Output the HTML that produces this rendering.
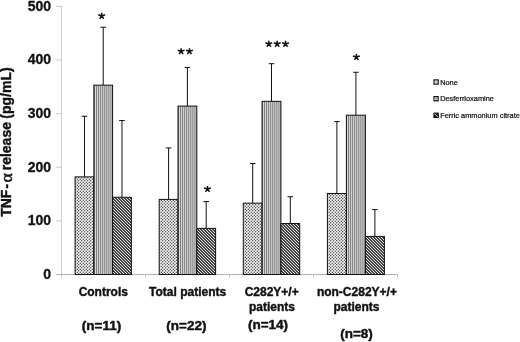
<!DOCTYPE html>
<html><head><meta charset="utf-8"><title>chart</title>
<style>html,body{margin:0;padding:0;background:#fff;}svg{display:block;will-change:transform;}</style></head>
<body>
<svg width="520" height="342" viewBox="0 0 520 342">
<defs>
<pattern id="pd" patternUnits="userSpaceOnUse" width="3" height="3" x="0" y="0">
<rect width="3" height="3" fill="#fff"/>
<circle cx="0.75" cy="0.75" r="0.66" fill="#2a2a2a"/><circle cx="2.25" cy="2.25" r="0.66" fill="#2a2a2a"/>
</pattern>
<pattern id="ph" patternUnits="userSpaceOnUse" width="3" height="3" x="0" y="0">
<rect width="3" height="3" fill="#000"/>
<path d="M-1 -1 L4 4 M2 -1 L7 4 M-4 -1 L1 4" stroke="#f2f2f2" stroke-width="1.05" fill="none"/>
</pattern>
</defs>
<rect width="520" height="342" fill="#fff"/>
<g stroke-width="1" fill="none">
<path d="M61.5 5.80 V278" stroke="#cccccc"/>
<path d="M56 274.5 H397.5" stroke="#b2b2b2"/>
<path d="M56.3 220.86 H61.5 M56.3 167.22 H61.5 M56.3 113.58 H61.5 M56.3 59.94 H61.5 M56.3 6.30 H61.5" stroke="#c6c6c6"/>
<path d="M145.5 274.5 V277.8 M229.5 274.5 V277.8 M313.5 274.5 V277.8 M397.5 274.5 V277.8" stroke="#c6c6c6"/>
</g>
<path d="M84.47 176.88 V116.26 M81.67 116.26 H87.27" stroke="#111" stroke-width="1" fill="none"/>
<rect x="75.10" y="176.88" width="18.75" height="97.62" fill="url(#pd)" stroke="#111" stroke-width="1"/>
<path d="M103.22 85.15 V27.22 M100.42 27.22 H106.02" stroke="#111" stroke-width="1" fill="none"/>
<rect x="93.85" y="85.15" width="18.75" height="189.35" fill="#7c7c7c"/><path d="M95.55 85.15 V274.50 M97.60 85.15 V274.50 M99.65 85.15 V274.50 M101.70 85.15 V274.50 M103.75 85.15 V274.50 M105.80 85.15 V274.50 M107.85 85.15 V274.50 M109.90 85.15 V274.50 M111.95 85.15 V274.50" stroke="#e4e4e4" stroke-width="0.95" fill="none"/>
<rect x="93.85" y="85.15" width="18.75" height="189.35" fill="none" stroke="#111" stroke-width="1"/>
<path d="M121.97 197.26 V120.55 M119.17 120.55 H124.77" stroke="#111" stroke-width="1" fill="none"/>
<rect x="112.60" y="197.26" width="18.75" height="77.24" fill="url(#ph)" stroke="#111" stroke-width="1"/>
<path d="M168.60 199.40 V147.91 M165.80 147.91 H171.40" stroke="#111" stroke-width="1" fill="none"/>
<rect x="159.20" y="199.40" width="18.8" height="75.10" fill="url(#pd)" stroke="#111" stroke-width="1"/>
<path d="M187.40 106.07 V67.45 M184.60 67.45 H190.20" stroke="#111" stroke-width="1" fill="none"/>
<rect x="178.00" y="106.07" width="18.8" height="168.43" fill="#7c7c7c"/><path d="M179.55 106.07 V274.50 M181.60 106.07 V274.50 M183.65 106.07 V274.50 M185.70 106.07 V274.50 M187.75 106.07 V274.50 M189.80 106.07 V274.50 M191.85 106.07 V274.50 M193.90 106.07 V274.50 M195.95 106.07 V274.50" stroke="#e4e4e4" stroke-width="0.95" fill="none"/>
<rect x="178.00" y="106.07" width="18.8" height="168.43" fill="none" stroke="#111" stroke-width="1"/>
<path d="M206.20 228.37 V201.55 M203.40 201.55 H209.00" stroke="#111" stroke-width="1" fill="none"/>
<rect x="196.80" y="228.37" width="18.8" height="46.13" fill="url(#ph)" stroke="#111" stroke-width="1"/>
<path d="M252.70 203.16 V163.47 M249.90 163.47 H255.50" stroke="#111" stroke-width="1" fill="none"/>
<rect x="243.30" y="203.16" width="18.8" height="71.34" fill="url(#pd)" stroke="#111" stroke-width="1"/>
<path d="M271.50 101.35 V63.69 M268.70 63.69 H274.30" stroke="#111" stroke-width="1" fill="none"/>
<rect x="262.10" y="101.35" width="18.8" height="173.15" fill="#7c7c7c"/><path d="M263.55 101.35 V274.50 M265.60 101.35 V274.50 M267.65 101.35 V274.50 M269.70 101.35 V274.50 M271.75 101.35 V274.50 M273.80 101.35 V274.50 M275.85 101.35 V274.50 M277.90 101.35 V274.50 M279.95 101.35 V274.50" stroke="#e4e4e4" stroke-width="0.95" fill="none"/>
<rect x="262.10" y="101.35" width="18.8" height="173.15" fill="none" stroke="#111" stroke-width="1"/>
<path d="M290.30 223.54 V196.72 M287.50 196.72 H293.10" stroke="#111" stroke-width="1" fill="none"/>
<rect x="280.90" y="223.54" width="18.8" height="50.96" fill="url(#ph)" stroke="#111" stroke-width="1"/>
<path d="M336.90 193.50 V121.63 M334.10 121.63 H339.70" stroke="#111" stroke-width="1" fill="none"/>
<rect x="327.40" y="193.50" width="19.0" height="81.00" fill="url(#pd)" stroke="#111" stroke-width="1"/>
<path d="M355.90 115.19 V72.28 M353.10 72.28 H358.70" stroke="#111" stroke-width="1" fill="none"/>
<rect x="346.40" y="115.19" width="19.0" height="159.31" fill="#7c7c7c"/><path d="M347.55 115.19 V274.50 M349.60 115.19 V274.50 M351.65 115.19 V274.50 M353.70 115.19 V274.50 M355.75 115.19 V274.50 M357.80 115.19 V274.50 M359.85 115.19 V274.50 M361.90 115.19 V274.50 M363.95 115.19 V274.50" stroke="#e4e4e4" stroke-width="0.95" fill="none"/>
<rect x="346.40" y="115.19" width="19.0" height="159.31" fill="none" stroke="#111" stroke-width="1"/>
<path d="M374.90 236.42 V209.60 M372.10 209.60 H377.70" stroke="#111" stroke-width="1" fill="none"/>
<rect x="365.40" y="236.42" width="19.0" height="38.08" fill="url(#ph)" stroke="#111" stroke-width="1"/>
<g font-family="Liberation Sans, sans-serif" font-weight="bold" font-size="14" fill="#111" stroke="#111" stroke-width="0.3" stroke-linejoin="round">
<text x="51.1" y="278.90" text-anchor="end">0</text>
<text x="51.1" y="225.26" text-anchor="end">100</text>
<text x="51.1" y="171.62" text-anchor="end">200</text>
<text x="51.1" y="117.98" text-anchor="end">300</text>
<text x="51.1" y="64.34" text-anchor="end">400</text>
<text x="51.1" y="10.70" text-anchor="end">500</text>
</g>
<g font-family="Liberation Sans, sans-serif" font-weight="bold" font-size="12" fill="#111" text-anchor="middle" stroke="#111" stroke-width="0.4" stroke-linejoin="round">
<text x="103.3" y="295.6">Controls</text>
<text x="187.6" y="295.6">Total patients</text>
<text x="271.7" y="296.2">C282Y+/+</text>
<text x="272" y="310.5">patients</text>
<text x="356.9" y="296.2">non-C282Y+/+</text>
<text x="356.4" y="310.5">patients</text>
</g>
<g font-family="Liberation Sans, sans-serif" font-weight="bold" font-size="13.5" fill="#111" text-anchor="middle" stroke="#111" stroke-width="0.45" stroke-linejoin="round">
<text x="101.5" y="329.7">(n=11)</text>
<text x="186.4" y="329.7">(n=22)</text>
<text x="268" y="329.3">(n=14)</text>
<text x="356.5" y="337.8">(n=8)</text>
</g>
<g font-family="Liberation Sans, sans-serif" font-weight="bold" font-size="14" fill="#111" stroke="#111" stroke-width="0.4" stroke-linejoin="round">
<text transform="translate(11.2,216.8) rotate(-90)">TNF</text>
<text transform="translate(11.2,188.4) rotate(-90)">-</text>
<text transform="translate(12.0,182.5) rotate(-90) scale(1.08,0.95)" font-weight="normal" stroke-width="0.5" font-family="Liberation Serif, serif" font-size="16.5">α</text>
<text transform="translate(11.2,170.3) rotate(-90)">release</text>
<text transform="translate(11.2,118.65) rotate(-90)">(pg/mL)</text>
</g>
<path d="M101.70 15.90 L101.70 12.85 M101.70 15.90 L105.12 14.79 M101.70 15.90 L103.73 18.69 M101.70 15.90 L99.67 18.69 M101.70 15.90 L98.28 14.79" stroke="#111" stroke-width="1.55" fill="none"/>
<path d="M181.12 51.30 L181.12 48.25 M181.12 51.30 L184.55 50.19 M181.12 51.30 L183.15 54.09 M181.12 51.30 L179.10 54.09 M181.12 51.30 L177.70 50.19" stroke="#111" stroke-width="1.55" fill="none"/>
<path d="M189.47 51.30 L189.47 48.25 M189.47 51.30 L192.90 50.19 M189.47 51.30 L191.50 54.09 M189.47 51.30 L187.45 54.09 M189.47 51.30 L186.05 50.19" stroke="#111" stroke-width="1.55" fill="none"/>
<path d="M268.85 43.90 L268.85 40.85 M268.85 43.90 L272.27 42.79 M268.85 43.90 L270.88 46.69 M268.85 43.90 L266.82 46.69 M268.85 43.90 L265.43 42.79" stroke="#111" stroke-width="1.55" fill="none"/>
<path d="M277.20 43.90 L277.20 40.85 M277.20 43.90 L280.62 42.79 M277.20 43.90 L279.23 46.69 M277.20 43.90 L275.17 46.69 M277.20 43.90 L273.78 42.79" stroke="#111" stroke-width="1.55" fill="none"/>
<path d="M285.55 43.90 L285.55 40.85 M285.55 43.90 L288.97 42.79 M285.55 43.90 L287.58 46.69 M285.55 43.90 L283.52 46.69 M285.55 43.90 L282.13 42.79" stroke="#111" stroke-width="1.55" fill="none"/>
<path d="M356.40 57.10 L356.40 54.05 M356.40 57.10 L359.82 55.99 M356.40 57.10 L358.43 59.89 M356.40 57.10 L354.37 59.89 M356.40 57.10 L352.98 55.99" stroke="#111" stroke-width="1.55" fill="none"/>
<path d="M207.50 189.10 L207.50 186.05 M207.50 189.10 L210.92 187.99 M207.50 189.10 L209.53 191.89 M207.50 189.10 L205.47 191.89 M207.50 189.10 L204.08 187.99" stroke="#111" stroke-width="1.55" fill="none"/>
<g font-family="Liberation Sans, sans-serif" font-size="7.4" fill="#111" stroke="#111" stroke-width="0.22">
<rect x="433.95000000000005" y="79.85" width="4.3" height="4.3" fill="#fff" stroke="#111" stroke-width="1.1"/>
<circle cx="436.10" cy="82.00" r="0.5" fill="#333" stroke="none"/>
<circle cx="434.90" cy="80.80" r="0.5" fill="#333" stroke="none"/>
<circle cx="437.30" cy="80.80" r="0.5" fill="#333" stroke="none"/>
<circle cx="434.90" cy="83.20" r="0.5" fill="#333" stroke="none"/>
<circle cx="437.30" cy="83.20" r="0.5" fill="#333" stroke="none"/>
<text x="440.15" y="84.85">None</text>
<rect x="433.95000000000005" y="96.55" width="4.3" height="4.3" fill="#9a9a9a" stroke="#111" stroke-width="1.1"/>
<path d="M433.95000000000005 97.95 h4.3 M433.95000000000005 99.45 h4.3" stroke="#d0d0d0" stroke-width="0.6" fill="none"/>
<text x="440.15" y="101.0">Desferrioxamine</text>
<rect x="433.95000000000005" y="113.15" width="4.3" height="4.3" fill="#111" stroke="#111" stroke-width="1.1"/>
<path d="M434.40000000000003 113.60 l3.4 3.4" stroke="#eee" stroke-width="0.9" fill="none"/>
<text x="440.15" y="117.7">Ferric ammonium citrate</text>
</g>
</svg>
</body></html>
